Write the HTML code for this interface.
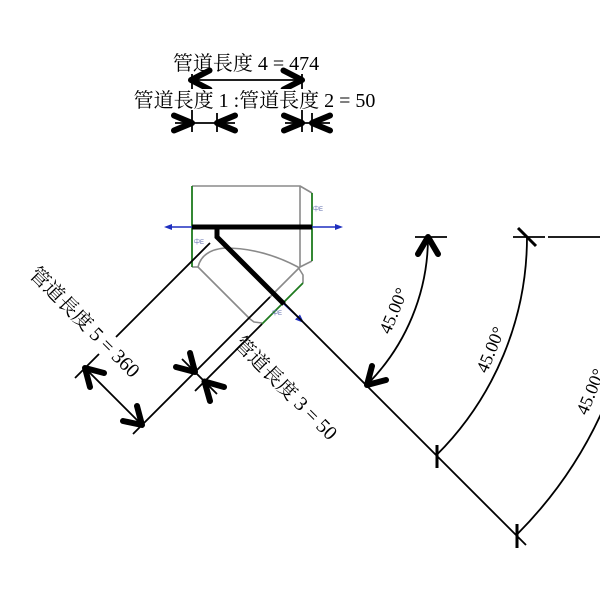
<!DOCTYPE html>
<html><head><meta charset="utf-8">
<style>html,body{margin:0;padding:0;background:#fff}svg{display:block}</style>
</head>
<body>
<svg width="600" height="600" viewBox="0 0 600 600" xmlns="http://www.w3.org/2000/svg" font-family="'Liberation Serif','Noto Serif CJK SC',serif">
<rect width="600" height="600" fill="#fff"/>

<!-- ===== Top dimensions ===== -->
<g stroke="#000" stroke-width="1.8" fill="none">
  <line x1="191" y1="80" x2="302" y2="80"/>
  <line x1="192" y1="74" x2="192" y2="132"/>
  <line x1="302" y1="74" x2="302" y2="132"/>
  <line x1="217" y1="113" x2="217" y2="132"/>
  <line x1="312" y1="113" x2="312" y2="132"/>
  <line x1="175" y1="123" x2="235" y2="123"/>
  <line x1="285" y1="123" x2="330" y2="123"/>
</g>
<g stroke="#000" stroke-width="6" fill="none" stroke-linecap="round" stroke-linejoin="round">
  <polyline points="209.5,70.5 191,80 209.5,89.5"/>
  <polyline points="283.5,70.5 302,80 283.5,89.5"/>
  <polyline points="174,115.5 192,123 174,130.5"/>
  <polyline points="235,115.5 217,123 235,130.5"/>
  <polyline points="284,115.5 302,123 284,130.5"/>
  <polyline points="330,115.5 312,123 330,130.5"/>
</g>
<rect x="130" y="89" width="250" height="21" fill="#fff"/>
<text x="246" y="70" font-size="20" text-anchor="middle" fill="#000">管道長度 4 = 474</text>
<text x="254.5" y="107" font-size="20" text-anchor="middle" fill="#000">管道長度 1 :管道長度 2 = 50</text>

<!-- ===== Fitting ===== -->
<g stroke="#8a8a8a" stroke-width="1.6" fill="none" stroke-linejoin="round">
  <polyline points="192,186 300,186 312,193"/>
  <line x1="300" y1="186" x2="300" y2="267"/>
  <line x1="300" y1="267" x2="312" y2="261"/>
  <line x1="192" y1="267" x2="198" y2="267"/>
  <path d="M198,267 Q202,250 225,248 Q262,248 298,267 L303,275 L303,283"/>
  <polyline points="198,267 250,319 254,322 262,323"/>
  <line x1="270" y1="297" x2="300" y2="267"/>
</g>
<g stroke="#1e7a1e" stroke-width="1.8" fill="none">
  <line x1="192" y1="186" x2="192" y2="267"/>
  <line x1="312" y1="193" x2="312" y2="261"/>
  <line x1="262" y1="324" x2="303" y2="283"/>
</g>
<!-- blue connectors -->
<g stroke="#1f2fbf" stroke-width="1.6" fill="#1f2fbf">
  <line x1="170" y1="227" x2="337" y2="227"/>
  <polygon points="164,227 172,224 172,230" stroke="none"/>
  <polygon points="343,227 335,224 335,230" stroke="none"/>
  <line x1="283" y1="303" x2="299" y2="318"/>
  <polygon points="304,323 295,319.5 300,314.5" stroke="none"/>
</g>
<!-- thick pipe centerline -->
<g stroke="#000" stroke-width="5" fill="none" stroke-linejoin="miter">
  <line x1="192" y1="227" x2="312" y2="227"/>
  <polyline points="217,227 217,237 284,304"/>
</g>
<!-- tiny labels -->
<g font-size="6" fill="#5a68aa" font-family="'Liberation Sans','Noto Sans CJK SC',sans-serif">
  <text x="313" y="211">中E</text>
  <text x="194" y="244">中E</text>
  <text x="272" y="315">中E</text>
</g>

<!-- ===== Diagonal dimension lines ===== -->
<g stroke="#000" stroke-width="1.8" fill="none">
  <line x1="75" y1="378" x2="99" y2="354"/>
  <line x1="116" y1="337" x2="210" y2="243"/>
  <line x1="133" y1="434" x2="270" y2="297"/>
  <line x1="195" y1="391" x2="262" y2="324"/>
  <line x1="85" y1="368" x2="142" y2="425"/>
  <line x1="182" y1="359" x2="217" y2="394"/>
  <line x1="284" y1="303" x2="526" y2="545"/>
</g>
<g stroke="#000" stroke-width="6" fill="none" stroke-linecap="round" stroke-linejoin="round">
  <polyline points="104,373 85,368 90,387"/>
  <polyline points="123,421 142,425 137,406"/>
  <polyline points="176,367 195,372 190,353"/>
  <polyline points="224,387 204.5,381.5 210,401"/>
</g>
<text x="80" y="327" font-size="20" text-anchor="middle" fill="#000" transform="rotate(45 80 327)">管道長度 5 = 360</text>
<text x="281" y="393" font-size="20" text-anchor="middle" fill="#000" transform="rotate(45 281 393)">管道長度 3 = 50</text>

<!-- ===== Angle dimensions ===== -->
<g stroke="#000" stroke-width="1.8" fill="none">
  <line x1="415" y1="237" x2="447" y2="237"/>
  <line x1="513" y1="237" x2="545" y2="237"/>
  <line x1="548" y1="237" x2="600" y2="237"/>
  <path d="M428,237 A209,209 0 0 1 366.8,384.8"/>
  <path d="M527,237 A308,308 0 0 1 436.8,454.8"/>
  <path d="M640,237 A421,421 0 0 1 516.7,534.7"/>
</g>
<g stroke="#000" stroke-width="3" fill="none">
  <line x1="518" y1="228" x2="536" y2="246"/>
  <line x1="437" y1="445" x2="437" y2="468"/>
  <line x1="517" y1="524" x2="517" y2="548"/>
</g>
<g stroke="#000" stroke-width="6" fill="none" stroke-linecap="round" stroke-linejoin="round">
  <polyline points="418,254 428,237 438,254"/>
  <polyline points="386,380 367,385 372,366"/>
</g>
<g font-size="18" fill="#000" text-anchor="middle">
  <text x="399" y="313" transform="rotate(-67.5 399 313)">45.00°</text>
  <text x="496" y="352" transform="rotate(-67.5 496 352)">45.00°</text>
  <text x="596" y="394" transform="rotate(-67.5 596 394)">45.00°</text>
</g>
</svg>
</body></html>
